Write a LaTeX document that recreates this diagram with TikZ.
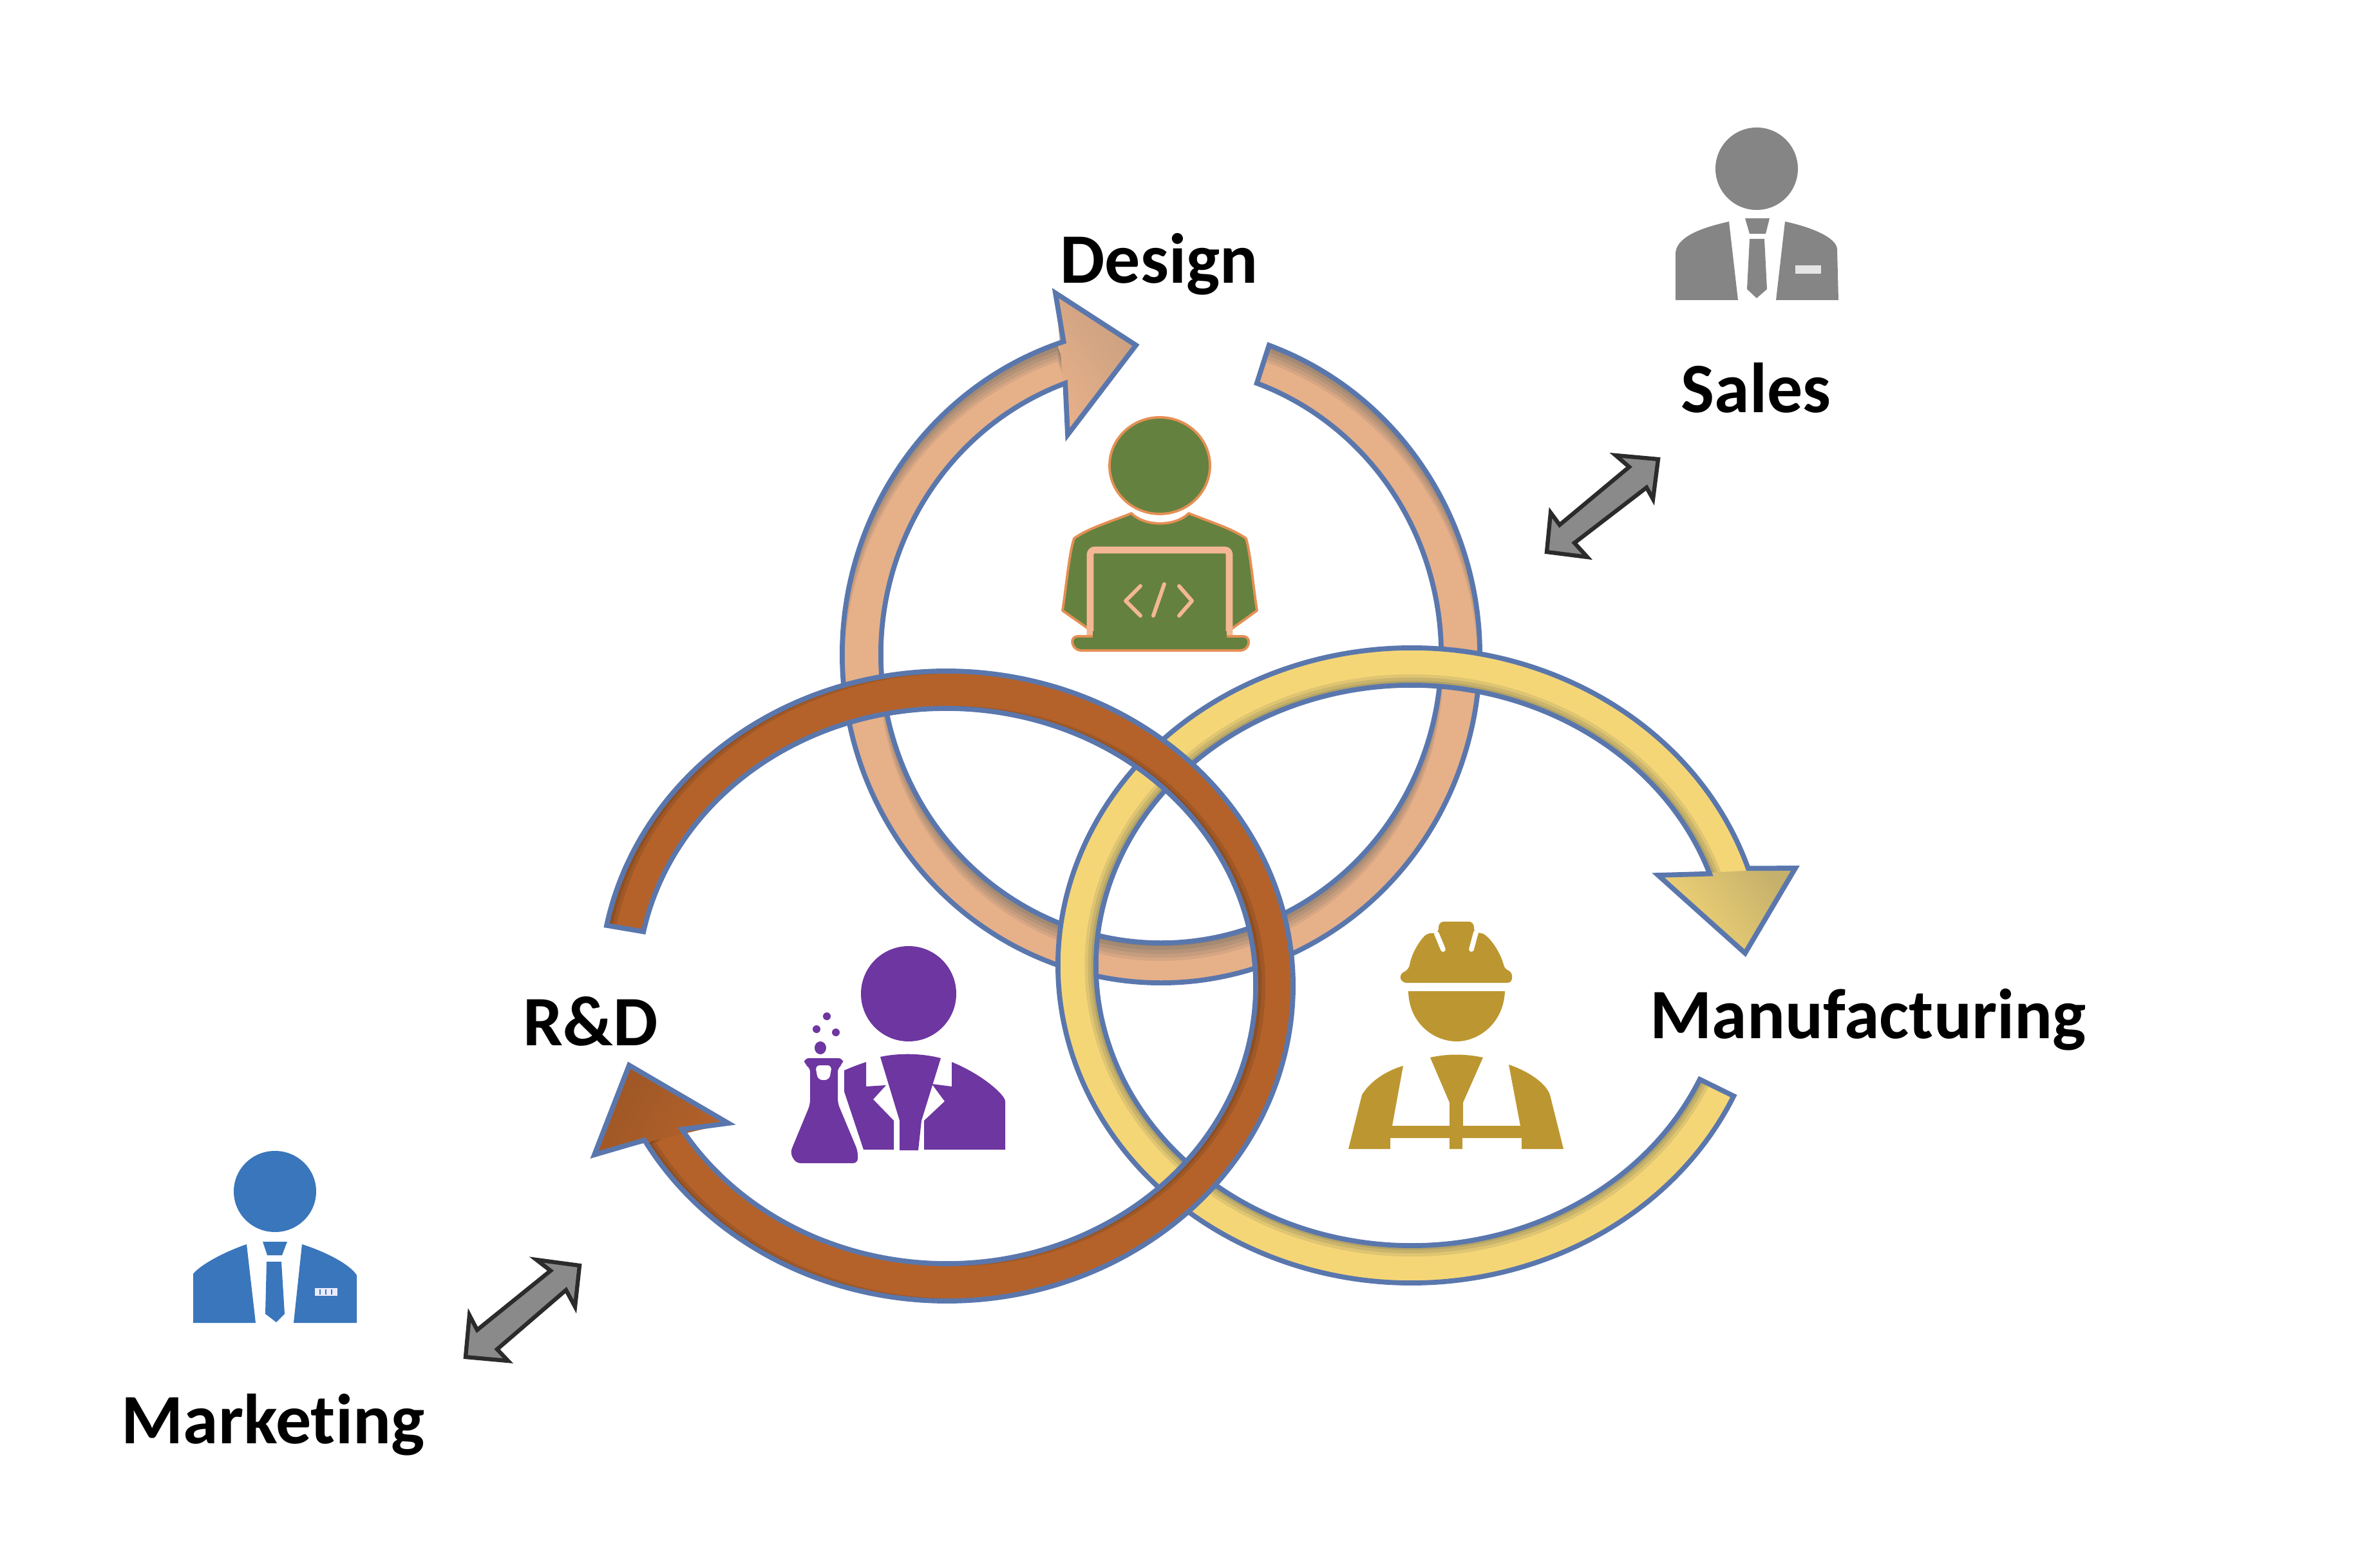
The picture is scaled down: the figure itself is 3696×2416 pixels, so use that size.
\documentclass[tikz,border=0pt]{standalone}
\usepackage{fontspec}
\setmainfont[Ligatures=NoCommon]{Carlito}
\usetikzlibrary{calc}
\definecolor{ringblue}{HTML}{5A77AD}
\definecolor{tanlight}{HTML}{E6B089}
\definecolor{tandark}{HTML}{94806E}
\definecolor{yellowlight}{HTML}{F5D677}
\definecolor{yellowdark}{HTML}{9E9262}
\definecolor{brownlight}{HTML}{B4622A}
\definecolor{browndark}{HTML}{7A451F}
\definecolor{codegreen}{HTML}{64813F}
\definecolor{codeorange}{HTML}{E58F55}
\definecolor{codepale}{HTML}{F4B795}
\definecolor{labpurple}{HTML}{6D36A0}
\definecolor{hatgold}{HTML}{BC9731}
\definecolor{suitgray}{HTML}{858585}
\definecolor{suitblue}{HTML}{3A76BB}
\definecolor{arrowgray}{HTML}{8A8A8A}
\definecolor{arrowdark}{HTML}{2B2B2B}
\begin{document}
\begin{tikzpicture}[x=0.01cm, y=-0.01cm,
    ringline/.style={draw=ringblue, line width=2.2pt, line join=miter},
    dblarrow/.style={draw=arrowdark, fill=arrowgray, line width=1.8pt, line join=miter},
    label/.style={font=\fontsize{31.3pt}{36pt}\selectfont\bfseries, text=black, inner sep=0pt, anchor=base},
    codestroke/.style={draw=codeorange, fill=codegreen, line width=1.1pt, line join=round}]
    \useasboundingbox (0,0) rectangle (3696,2416);

    % Ring outlines
    \path[save path=\tanpath] ($(1803,1016)+(-70.2:495 and 510)$)
      arc[start angle=-70.2, end angle=252.2, x radius=495, y radius=510]
      -- (1639,455) -- (1764,536) -- (1658,675)
      -- ($(1803,1016)+(250:435 and 448)$)
      arc[start angle=250, end angle=-70, x radius=435, y radius=448] -- cycle;
    \path[save path=\yellowpath] ($(2192,1499)+(24.3:549 and 493)$)
      arc[start angle=24.3, end angle=342.2, x radius=549, y radius=493]
      -- (2788,1348) -- (2710,1480) -- (2575,1359)
      -- ($(2192,1499)+(340.9:490 and 435)$)
      arc[start angle=340.9, end angle=24, x radius=490, y radius=435] -- cycle;
    \path[save path=\brownpath] ($(1470,1531)+(191.1:538 and 489)$)
      arc[start angle=191.1, end angle=510.7, x radius=538, y radius=489]
      -- (923,1793) -- (977,1654) -- (1131,1744)
      -- ($(1470,1531)+(508.9:480 and 431)$)
      arc[start angle=508.9, end angle=191.3, x radius=480, y radius=431] -- cycle;

    % Tan ring
    \fill[tanlight, use path=\tanpath];
    \begin{scope}
      \clip[use path=\tanpath];
      \foreach \s/\w/\m in {0/66/0,5/62/20,10/60/40,15/58/60,20/56/80,24/54/100}
        \draw[line width=\w*0.01cm, color=tanlight!\m!tandark] ($(1803,1016+\s)+(-71:465 and 479)$)
          arc[start angle=-71, end angle=251, x radius=465, y radius=479];
    \end{scope}
    \shade[left color=tanlight, middle color=tanlight, right color=tanlight!65!tandark, shading angle=125]
      (1639,455) -- (1764,536) -- (1658,675) -- cycle;
    \draw[ringline, use path=\tanpath];

    % Yellow ring
    \fill[yellowlight, use path=\yellowpath];
    \begin{scope}
      \clip[use path=\yellowpath];
      \foreach \s/\w/\m in {0/66/0,4/62/25,8/60/50,12/58/75,16/56/100}
        \draw[line width=\w*0.01cm, color=yellowlight!\m!yellowdark] ($(2192,1499)+(23:{519.5+\s} and {464+\s})$)
          arc[start angle=23, end angle=342, x radius={519.5+\s}, y radius={464+\s}];
    \end{scope}
    \shade[left color=yellowlight, middle color=yellowlight, right color=yellowlight!45!yellowdark, shading angle=125]
      (2788,1348) -- (2710,1480) -- (2575,1359) -- cycle;
    \draw[ringline, use path=\yellowpath];

    % Brown ring
    \fill[brownlight, use path=\brownpath];
    \begin{scope}
      \clip[use path=\brownpath];
      \foreach \s/\w/\m in {0/66/0,3/60/35,7/54/65,11/50/100}
        \draw[line width=\w*0.01cm, color=brownlight!\m!browndark] ($(1470+\s,1531)+(190:509 and 460)$)
          arc[start angle=190, end angle=510, x radius=509, y radius=460];
    \end{scope}
    \shade[left color=browndark!40!brownlight, middle color=brownlight, right color=brownlight, shading angle=60]
      (923,1793) -- (977,1654) -- (1131,1744) -- cycle;
    \draw[ringline, use path=\brownpath];

    % Double arrows
    \draw[dblarrow] (2575,713) -- (2567,775) -- (2557,757) -- (2445,843) -- (2465,865) -- (2402,857)
      -- (2408,796) -- (2422,815) -- (2530,725) -- (2509,707) -- cycle;
    \draw[dblarrow] (900,1965) -- (893,2029) -- (879,2003) -- (772,2095) -- (789,2113) -- (723,2107)
      -- (729,2042) -- (741,2065) -- (855,1973) -- (833,1956) -- cycle;

    % Designer
    \draw[codestroke] (1801,723) ellipse[x radius=78, y radius=75];
    \draw[codestroke] (1757,797) .. controls (1725,810) and (1690,820) .. (1668,836)
      .. controls (1660,860) and (1656,910) .. (1650,948) -- (1694,979) -- (1909,979) -- (1952,948)
      .. controls (1946,910) and (1942,860) .. (1935,836) .. controls (1912,820) and (1878,810) .. (1846,797)
      .. controls (1825,818) and (1778,818) .. (1757,797) -- cycle;
    \draw[draw=codepale, fill=codegreen, line width=3pt, rounded corners=2pt]
      (1693,988) -- (1693,854) -- (1909,854) -- (1909,988);
    \draw[codestroke, rounded corners=3pt] (1663,988) -- (1941,988) -- (1937,1010) -- (1668,1010) -- cycle;
    \fill[codegreen] (1697,980) rectangle (1905,992);
    \draw[codepale, line width=1.7pt, line cap=round, line join=round] (1771,910) -- (1748,933) -- (1771,956);
    \draw[codepale, line width=1.7pt, line cap=round] (1808,907) -- (1791,956);
    \draw[codepale, line width=1.7pt, line cap=round, line join=round] (1831,910) -- (1851,933) -- (1831,956);

    % Scientist
    \fill[labpurple] (1411,1543) ellipse[x radius=74, y radius=74];
    \fill[labpurple] (1367,1641) .. controls (1395,1635) and (1430,1635) .. (1461,1643)
      -- (1431,1740) -- (1426,1786) -- (1397,1786) -- (1397,1740) -- cycle;
    \fill[labpurple] (1345,1649) .. controls (1330,1654) and (1320,1658) .. (1311,1662)
      -- (1311,1695) -- (1341,1785) -- (1388,1785) -- (1388,1740) -- (1356,1707) -- (1376,1685) -- (1345,1687) -- cycle;
    \fill[labpurple] (1478,1649) .. controls (1525,1668) and (1561,1700) .. (1561,1710)
      -- (1561,1785) -- (1435,1785) -- (1435,1740) -- (1467,1710) -- (1447,1683) -- (1478,1687) -- cycle;
    \fill[labpurple, even odd rule, rounded corners=2pt] (1249,1643) -- (1309,1643) -- (1309,1653) -- (1301,1657) -- (1301,1713)
      -- (1332,1787) -- (1332,1806) -- (1236,1806) -- (1227,1790) -- (1258,1715) -- (1258,1657) -- (1249,1653) -- cycle
      (1266,1654) -- (1292,1654) -- (1288,1677) -- (1270,1677) -- cycle;
    \foreach \bx/\by/\br in {1284/1578/6,1268/1598/6,1298/1603/6}
      \fill[labpurple] (\bx,\by) circle[radius=\br];
    \fill[labpurple] (1274,1627) ellipse[x radius=9, y radius=10];

    % Worker
    \fill[hatgold, rounded corners=2pt] (2173,1513) -- (2188,1505) .. controls (2192,1480) and (2205,1460) .. (2218,1448)
      -- (2233,1450) -- (2235,1431) -- (2288,1431) -- (2290,1450) -- (2300,1447)
      .. controls (2320,1462) and (2332,1485) .. (2337,1506) -- (2348,1508) -- (2348,1526) -- (2177,1526) -- cycle;
    \draw[white, line width=2.2pt, line cap=round] (2231,1450) -- (2241,1474);
    \draw[white, line width=2.2pt, line cap=round] (2292,1448) -- (2285,1474);
    \fill[hatgold] (2187,1539) -- (2337,1539) .. controls (2335,1590) and (2295,1617) .. (2262,1617)
      .. controls (2228,1617) and (2188,1590) .. (2187,1539) -- cycle;
    \fill[hatgold] (2179,1655) .. controls (2160,1660) and (2130,1675) .. (2115,1700) -- (2094,1784) -- (2159,1784) -- (2159,1767)
      -- (2251,1767) -- (2251,1784) -- (2271,1784) -- (2271,1767) -- (2363,1767) -- (2363,1784) -- (2428,1784) -- (2407,1700)
      .. controls (2400,1680) and (2370,1662) .. (2343,1653) -- (2361,1748) -- (2272,1748) -- (2272,1712) -- (2303,1642)
      .. controls (2275,1636) and (2248,1636) .. (2221,1642) -- (2251,1712) -- (2251,1748) -- (2162,1748) -- cycle;

    % Sales person
    \fill[suitgray] (2728,262) circle[radius=64];
    \fill[suitgray] (2685,344) .. controls (2650,352) and (2605,365) .. (2602,392) -- (2602,466) -- (2699,466) -- cycle;
    \fill[suitgray] (2772,344) .. controls (2810,352) and (2852,368) .. (2853,387) -- (2855,466) -- (2758,466) -- cycle;
    \fill[suitgray] (2710,339) -- (2748,339) -- (2742,363) -- (2717,363) -- cycle;
    \fill[suitgray] (2717,371) -- (2740,371) -- (2744,449) -- (2728,463) -- (2713,449) -- cycle;
    \fill[black!10] (2788,412) rectangle (2828,425);

    % Marketing person
    \fill[suitblue] (427,1850) ellipse[x radius=64, y radius=63];
    \fill[suitblue] (383,1932) .. controls (345,1945) and (310,1965) .. (300,1978) -- (300,2054) -- (397,2054) -- cycle;
    \fill[suitblue] (469,1932) .. controls (510,1945) and (545,1965) .. (554,1980) -- (554,2054) -- (456,2054) -- cycle;
    \fill[suitblue] (408,1928) -- (446,1928) -- (438,1949) -- (415,1949) -- cycle;
    \fill[suitblue] (414,1959) -- (437,1959) -- (442,2040) -- (429,2053) -- (412,2040) -- cycle;
    \fill[blue!8] (489,2000) rectangle (524,2012);
    \foreach \xi in {497,506,515}
      \draw[suitblue, line width=0.5pt] (\xi,2002) -- (\xi,2010);

    % Labels
    \node[label] (design) at (1800,440) {Design};
    \node[label] (sales) at (2727,641) {Sales};
    \node[label] (manufacturing) at (2901,1612) {Manufacturing};
    \node[label] (rd) at (917,1623) {R\&D};
    \node[label] (marketing) at (424,2241) {Marketing};
\end{tikzpicture}
\end{document}
